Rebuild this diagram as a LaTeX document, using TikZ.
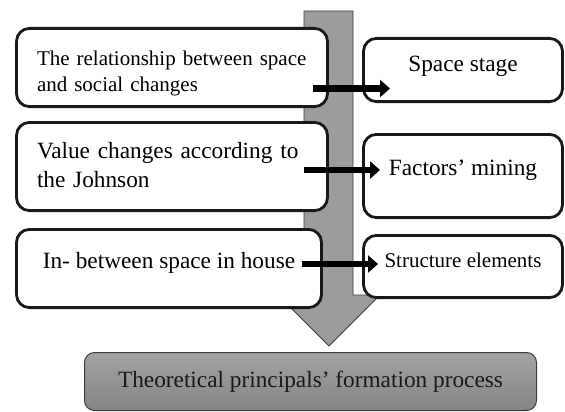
\documentclass[tikz,border=0pt]{standalone}
\usepackage{fontspec}
\setmainfont{Liberation Serif}
\usetikzlibrary{arrows.meta,positioning}
\definecolor{shaftgray}{RGB}{156,156,156}
\definecolor{edgegray}{RGB}{60,60,60}

\begin{document}
\begin{tikzpicture}[x=1pt,y=-1pt,
  box/.style={draw=black!90,line width=2.8pt,rounded corners=13pt,fill=white,inner sep=0pt},
  leftbox/.style={box,minimum width=311pt},
  rightbox/.style={box,minimum width=199pt},
  big/.style={font=\fontsize{23.3}{29}\selectfont},
  small/.style={font=\fontsize{21}{26}\selectfont},
  link/.style={line width=6.5pt,-{Triangle[length=10pt,width=17pt]}}]
\useasboundingbox (0,0) rectangle (565,412);

% process arrow behind the boxes
\draw[fill=shaftgray,draw=edgegray,line width=0.8pt]
  (304,11) -- (353,11) -- (353,295) -- (380,295) -- (329,346) -- (278,295) -- (304,295) -- cycle;

\node[leftbox,small,minimum height=78.2pt,text width=270pt,align=left] (rel) at (172,67.5)
  {\rule{0pt}{26pt}The relationship between space\\and social changes};
\node[leftbox,big,minimum height=88.2pt,text width=270pt,align=left] (val) at (172,166.5)
  {Value changes according to\\the Johnson\rule[-4pt]{0pt}{0pt}};
\node[box,big,minimum width=305pt,minimum height=78.2pt,text depth=16.9pt] (inb) at (169,268.5)
  {In- between space in house};

\node[rightbox,big,minimum height=63.2pt,text depth=11.5pt] (stage) at (463,70) {Space stage};
\node[rightbox,big,minimum height=83.2pt,text depth=15.9pt] (mining) at (463,176) {Factors’ mining};
\node[rightbox,small,minimum height=62.2pt,text depth=13.3pt] (elem) at (463,266.5) {Structure elements};

\node[draw=edgegray,line width=1pt,rounded corners=10pt,top color=black!36,bottom color=black!48,
  minimum width=452pt,minimum height=58pt,big,text=black!90] (theory) at (310.5,381.5)
  {Theoretical principals’ formation process};

\coordinate (r1) at (313,88.5);
\coordinate (s1) at (390,88.5);
\coordinate (r2) at (304,170);
\coordinate (s2) at (380,170);
\coordinate (r3) at (302,264);
\coordinate (s3) at (378,264);
\path[link]
(r1) edge (s1)
(r2) edge (s2)
(r3) edge (s3);
\end{tikzpicture}
\end{document}
